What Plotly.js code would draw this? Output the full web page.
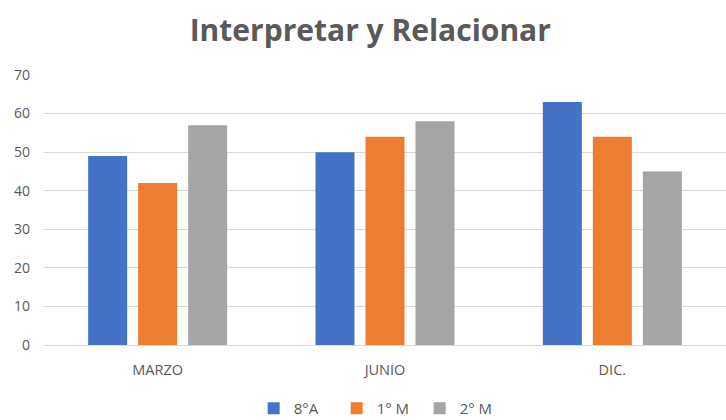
<!DOCTYPE html>
<html>
<head>
<meta charset="utf-8">
<script src="https://cdn.plot.ly/plotly-3.0.1.min.js"></script>
<style>
  html, body { margin: 0; padding: 0; background: #fff; }
  #plot { width: 726px; height: 420px; }
</style>
</head>
<body>
<div id="plot"></div>
<script>
// categories and series
var meses = ["MARZO", "JUNIO", "DIC."];
var serieNames = ["8°A", "1° M", "2° M"];
var val8A = [49, 50, 63];
var val1M = [42, 54, 54];
var val2M = [57, 58, 45];
var yTicks = [0, 10, 20, 30, 40, 50, 60, 70];

var colores = ["#4472C4", "#ED7D31", "#A5A5A5"];
var valores = [val8A, val1M, val2M];

var data = [];
for (var i = 0; i < serieNames.length; i++) {
  data.push({
    x: meses,
    y: valores[i],
    name: serieNames[i],
    type: "bar",
    marker: { color: colores[i] },
    hoverinfo: "none"
  });
}

var layout = {
  width: 726,
  height: 420,
  margin: { l: 44, r: 0, t: 75, b: 75, autoexpand: false },
  paper_bgcolor: "#fff",
  plot_bgcolor: "#fff",
  font: { family: "Open Sans, Liberation Sans, sans-serif", color: "#595959", size: 14 },
  title: {
    text: "Interpretar y Relacionar",
    font: { family: "Open Sans, sans-serif", size: 30, color: "#595959", weight: "bold" },
    x: 0.51,
    xanchor: "center",
    y: 0.928,
    yanchor: "middle"
  },
  barmode: "group",
  bargap: 0.34,
  bargroupgap: 0.22,
  xaxis: {
    showgrid: false,
    showline: true,
    linecolor: "#d9d9d9",
    linewidth: 1,
    ticks: "",
    ticklabelstandoff: 12,
    tickfont: { size: 14.5, color: "#595959" }
  },
  yaxis: {
    range: [0, 70],
    tickvals: yTicks,
    showgrid: true,
    gridcolor: "#d9d9d9",
    gridwidth: 1,
    zeroline: false,
    showline: false,
    ticks: "",
    ticklabelstandoff: 13,
    tickfont: { size: 14, color: "#595959" }
  },
  legend: {
    orientation: "h",
    x: 0.49,
    xanchor: "center",
    y: -0.235,
    yanchor: "middle",
    font: { size: 15, color: "#595959" },
    entrywidth: 38,
    itemwidth: 30,
    traceorder: "normal"
  },
  showlegend: true
};

Plotly.newPlot("plot", data, layout, { displayModeBar: false, staticPlot: true });
</script>
</body>
</html>
